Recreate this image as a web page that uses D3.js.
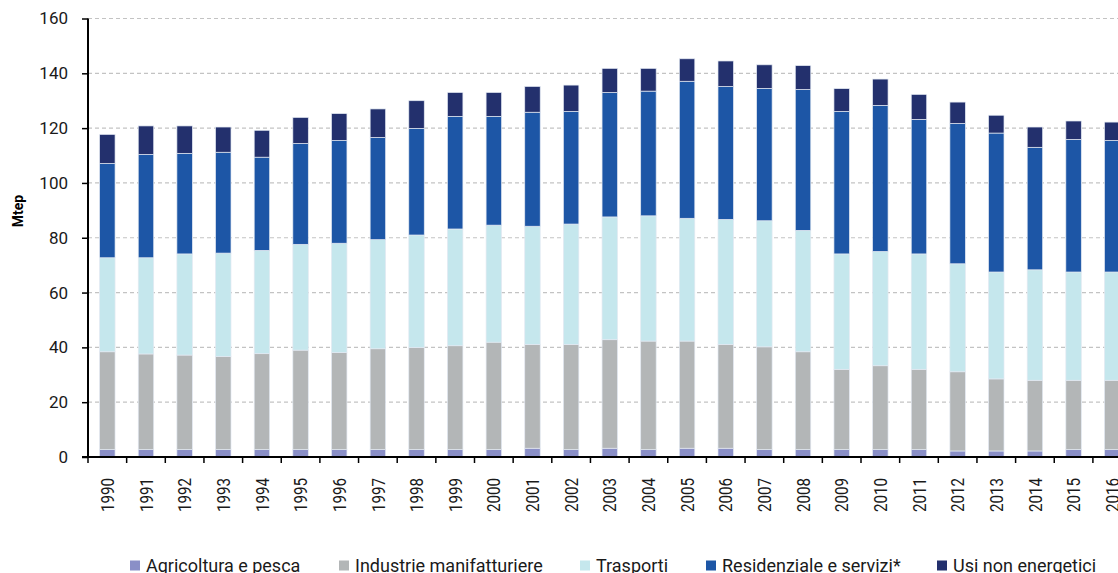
<!DOCTYPE html>
<html>
<head>
<meta charset="utf-8">
<script src="https://cdn.jsdelivr.net/npm/d3@7"></script>
<style>
  html, body { margin: 0; padding: 0; background: #fff; overflow: hidden; }
  svg { display: block; font-family: Roboto, "Noto Sans", sans-serif; }
</style>
</head>
<body>
<svg id="chart" width="1118" height="573"></svg>
<script>
const years = ["1990","1991","1992","1993","1994","1995","1996","1997","1998","1999","2000","2001","2002","2003","2004","2005","2006","2007","2008","2009","2010","2011","2012","2013","2014","2015","2016"];
const agricoltura = [2.7,2.7,2.7,2.7,2.7,2.7,2.7,2.7,2.7,2.7,2.7,3.2,2.7,3.2,2.7,3.2,3.2,2.7,2.7,2.7,2.7,2.7,2.2,2.2,2.2,2.7,2.7];
const industrie   = [35.7,34.9,34.5,34.0,35.0,36.3,35.4,36.8,37.2,37.9,39.2,37.9,38.4,39.6,39.6,39.1,37.9,37.5,35.7,29.3,30.6,29.3,28.9,26.3,25.8,25.3,25.3];
const trasporti   = [34.3,35.1,36.9,37.7,37.7,38.6,39.9,39.8,41.1,42.6,42.7,43.1,43.9,44.8,45.7,44.8,45.6,46.0,44.3,42.1,41.7,42.1,39.4,39.0,40.3,39.5,39.5];
const residenziale= [34.4,37.7,36.7,36.8,34.0,36.8,37.5,37.3,38.9,41.1,39.7,41.6,41.1,45.4,45.5,50.0,48.5,48.3,51.4,52.0,53.3,49.1,51.2,50.7,44.7,48.4,48.0];
const usiNonEn    = [10.6,10.4,10.0,9.2,9.8,9.5,9.8,10.4,10.1,8.7,8.7,9.4,9.6,8.8,8.3,8.2,9.3,8.6,8.7,8.3,9.6,9.1,7.8,6.5,7.4,6.7,6.7];
const seriesNames = ["Agricoltura e pesca","Industrie manifatturiere","Trasporti","Residenziale e servizi*","Usi non energetici"];
const seriesColors = ["#8a8fc7","#b3b6b7","#c5e7ed","#1d56a6","#23306d"];
const yTicks = [0,20,40,60,80,100,120,140,160];

const seriesValues = [agricoltura, industrie, trasporti, residenziale, usiNonEn];
const keys = ["a","b","c","d","e"];
const table = years.map((y, i) => {
  const row = { year: y };
  keys.forEach((k, j) => row[k] = seriesValues[j][i]);
  return row;
});

const svg = d3.select("#chart");
const x0 = 88, step = 38.65;
const x = d3.scaleBand().domain(years)
  .range([x0, x0 + step * years.length])
  .paddingInner(0.6).paddingOuter(0.3);
const y = d3.scaleLinear().domain([0, 160]).range([457, 18.5]);

// gridlines
svg.append("g").selectAll("line").data(yTicks.filter(d => d > 0)).join("line")
  .attr("x1", x0).attr("x2", 1118)
  .attr("y1", d => y(d)).attr("y2", d => y(d))
  .attr("stroke", "#c3c3c3").attr("stroke-width", 1.2)
  .attr("stroke-dasharray", "4,3");

// bars
const stack = d3.stack().keys(keys)(table);
svg.append("g").selectAll("g").data(stack).join("g")
  .attr("fill", (d, i) => seriesColors[i])
  .selectAll("rect").data(d => d).join("rect")
  .attr("x", d => x(d.data.year))
  .attr("width", x.bandwidth())
  .attr("y", d => y(d[1]))
  .attr("height", d => y(d[0]) - y(d[1]))
  .attr("stroke", "#e3e9f2").attr("stroke-width", 0.7);

// y axis
const yAxis = d3.axisLeft(y).tickValues(yTicks).tickSize(6).tickPadding(14).tickFormat(d3.format("d"));
const gy = svg.append("g").attr("transform", `translate(${x0},0)`).call(yAxis);
gy.select(".domain").attr("stroke", "#000").attr("stroke-width", 2).attr("d", `M0,${y(160)}V${y(0)}`);
gy.selectAll(".tick line").attr("stroke", "#000").attr("stroke-width", 1.5);
gy.selectAll(".tick text").attr("font-size", 17).attr("fill", "#1a1a1a").attr("font-family", "Roboto");

// x axis
const gx = svg.append("g").attr("transform", `translate(0,${y(0)})`);
gx.append("line").attr("x1", 82).attr("x2", 1118).attr("y1", 0).attr("y2", 0)
  .attr("stroke", "#000").attr("stroke-width", 2);
const boundaries = years.map(d => x(d) + x.bandwidth() / 2 - x.step() / 2);
gx.selectAll("line.tk").data(boundaries).join("line").attr("class", "tk")
  .attr("x1", d => d).attr("x2", d => d).attr("y1", 0).attr("y2", 6)
  .attr("stroke", "#000").attr("stroke-width", 1.5);
gx.selectAll("text").data(years).join("text")
  .attr("transform", d => `translate(${x(d) + x.bandwidth() / 2},21) rotate(-90)`)
  .attr("text-anchor", "end").attr("dy", "0.35em")
  .attr("font-size", 19).attr("fill", "#1a1a1a")
  .attr("textLength", 34).attr("lengthAdjust", "spacingAndGlyphs")
  .text(d => d);

// y label
svg.append("text").attr("transform", "translate(23,211) rotate(-90)")
  .attr("text-anchor", "middle").attr("font-size", 14).attr("font-weight", "bold")
  .attr("fill", "#000").text("Mtep");

// legend
const legendX = [130, 339, 580, 706, 937];
const lg = svg.append("g").selectAll("g").data(seriesNames).join("g")
  .attr("transform", (d, i) => `translate(${legendX[i]},0)`);
lg.append("rect").attr("x", 0).attr("y", 560.5).attr("width", 10).attr("height", 10)
  .attr("fill", (d, i) => seriesColors[i]);
lg.append("text").attr("x", 16).attr("y", 571.5).attr("font-size", 18)
  .attr("fill", "#1a1a1a").text(d => d);
</script>
</body>
</html>
